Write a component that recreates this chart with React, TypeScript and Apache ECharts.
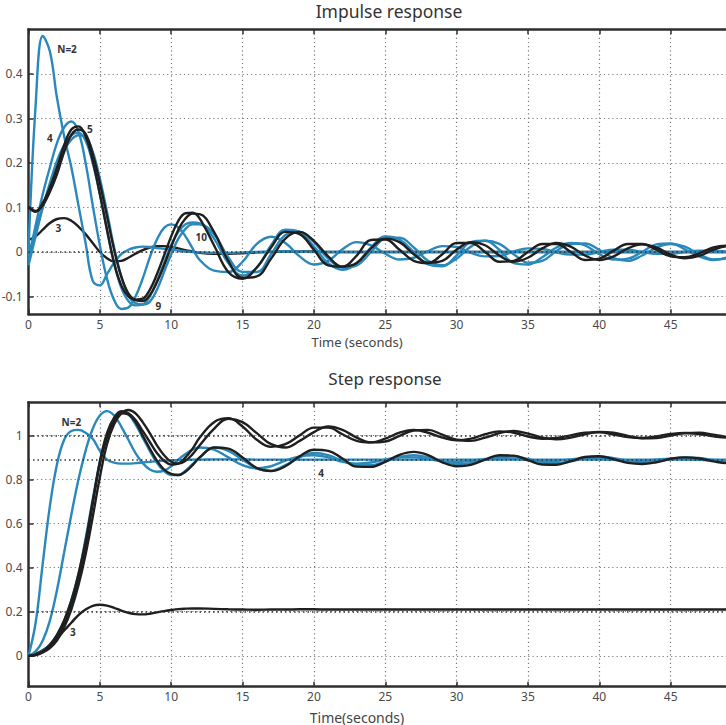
import React, { useEffect, useRef } from "react";
import * as echarts from "echarts";

// time samples (seconds)
const T = [0, 0.5, 1, 1.5, 2, 2.5, 3, 3.5, 4, 4.5, 5, 5.5, 6, 6.5, 7, 7.5, 8, 8.5, 9, 9.5, 10, 10.5, 11, 11.5, 12,
  13, 14, 15, 16, 17, 18, 19, 20, 21, 22, 23, 24, 25, 26, 27, 28, 29, 30, 31, 32, 33, 34, 35, 36, 37, 38, 39, 40,
  41, 42, 43, 44, 45, 46, 47, 48, 49, 50];

const X_TICKS = { min: 0, max: 50, interval: 5 };
const IMP_Y = { min: -0.14, max: 0.5, splitNumber: 5 };
const STEP_Y = { min: -0.14, max: 1.15, splitNumber: 6 };

// Impulse response values
const impN2 = [0, 0.33, 0.485, 0.45, 0.345, 0.26, 0.19, 0.105, 0.02, -0.065, -0.075, -0.05, -0.024, -0.005, 0.005,
  0.01, 0.012, 0.011, 0.009, 0.007, 0.005, 0.003, 0.001, 0, -0.001,
  -0.002, -0.002, -0.001, 0, 0.001, 0.001, 0.001, 0, 0, 0, 0, 0, 0, 0, 0, 0, 0, 0, 0, 0, 0, 0, 0, 0, 0, 0, 0, 0,
  0, 0, 0, 0, 0, 0, 0, 0, 0, 0];
const impN3 = [0.027, 0.035, 0.05, 0.065, 0.074, 0.076, 0.07, 0.057, 0.04, 0.02, 0.0, -0.014, -0.021, -0.02, -0.013,
  -0.004, 0.004, 0.01, 0.013, 0.013, 0.011, 0.008, 0.004, 0.001, -0.002,
  -0.004, -0.004, -0.003, -0.001, 0, 0.001, 0.001, 0.001, 0, 0, 0, 0, 0, 0, 0, 0, 0, 0, 0, 0, 0, 0, 0, 0, 0, 0, 0, 0,
  0, 0, 0, 0, 0, 0, 0, 0, 0, 0];
const impN4 = [-0.02, 0.06, 0.13, 0.19, 0.245, 0.28, 0.293, 0.27, 0.2, 0.105, 0.015, -0.06, -0.108, -0.128, -0.125,
  -0.1, -0.06, -0.012, 0.028, 0.054, 0.062, 0.055, 0.035, 0.008, -0.018,
  -0.042, -0.045, -0.022, 0.018, 0.034, 0.02, -0.01, -0.028, -0.02, 0.006,
  0.022, 0.015, -0.004, -0.017, -0.013, 0.002, 0.013, 0.011, -0.002, -0.01,
  -0.009, 0.001, 0.008, 0.007, -0.001, -0.006, -0.006, 0.0, 0.005, 0.005,
  0.0, -0.004, -0.004, 0.0, 0.003, 0.003, 0.0, -0.002];
const impN5 = [0.102, 0.092, 0.11, 0.145, 0.19, 0.24, 0.275, 0.282, 0.26, 0.205, 0.13, 0.05, -0.025, -0.075, -0.1,
  -0.107, -0.105, -0.085, -0.05, -0.008, 0.035, 0.07, 0.087, 0.088, 0.075,
  0.015, -0.045, -0.06, -0.035, 0.01, 0.045, 0.04, 0.005, -0.03, -0.033,
  -0.008, 0.027, 0.028, 0.005, -0.02, -0.025, -0.005, 0.02, 0.02, 0.0,
  -0.022, -0.02, 0.0, 0.018, 0.018, 0.0, -0.018, -0.015, 0.003, 0.018,
  0.018, 0.005, -0.01, -0.012, -0.003, 0.01, 0.014, 0.008];
const impN7 = [0.1, 0.09, 0.105, 0.135, 0.175, 0.225, 0.263, 0.275, 0.265, 0.22, 0.155, 0.08, 0.005, -0.055, -0.093,
  -0.108, -0.11, -0.097, -0.068, -0.03, 0.012, 0.05, 0.075, 0.086, 0.085,
  0.045, -0.02, -0.058, -0.055, -0.015, 0.03, 0.045, 0.025, -0.01, -0.033,
  -0.025, 0.008, 0.03, 0.022, -0.005, -0.024, -0.02, 0.005, 0.022, 0.015,
  -0.008, -0.022, -0.013, 0.008, 0.02, 0.012, -0.008, -0.018, -0.01, 0.008,
  0.017, 0.01, -0.006, -0.014, -0.009, 0.005, 0.013, 0.01];
const impN8 = [-0.03, 0.035, 0.1, 0.155, 0.205, 0.24, 0.262, 0.268, 0.25, 0.2, 0.13, 0.05, -0.025, -0.08, -0.11,
  -0.12, -0.118, -0.1, -0.065, -0.025, 0.015, 0.045, 0.062, 0.066, 0.064,
  0.03, -0.025, -0.053, -0.035, 0.015, 0.05, 0.045, 0.012, -0.025, -0.04,
  -0.025, 0.01, 0.035, 0.028, 0.0, -0.028, -0.032, -0.008, 0.022, 0.025,
  0.005, -0.025, -0.028, -0.012, 0.01, 0.02, 0.015, -0.005, -0.017, -0.015,
  0.0, 0.017, 0.019, 0.006, -0.01, -0.018, -0.012, 0.002];
const impN10 = [-0.01, 0.05, 0.1, 0.145, 0.19, 0.228, 0.252, 0.262, 0.258, 0.225, 0.165, 0.09, 0.01, -0.055, -0.098,
  -0.115, -0.118, -0.112, -0.085, -0.045, -0.005, 0.03, 0.052, 0.062, 0.062,
  0.04, -0.012, -0.045, -0.045, -0.005, 0.038, 0.045, 0.022, -0.015, -0.035,
  -0.03, 0.0, 0.03, 0.032, 0.01, -0.02, -0.03, -0.015, 0.012, 0.025,
  0.018, -0.005, -0.024, -0.02, 0.002, 0.018, 0.019, 0.005, -0.014, -0.02,
  -0.008, 0.01, 0.018, 0.012, -0.005, -0.017, -0.014, 0.0];

// Step response values
const stepN2 = [0, 0.15, 0.42, 0.68, 0.87, 0.98, 1.02, 1.025, 1.012, 0.985, 0.93, 0.89, 0.876, 0.872, 0.872,
  0.874, 0.877, 0.88, 0.883, 0.885, 0.887, 0.888, 0.889, 0.89, 0.89,
  0.891, 0.891, 0.891, 0.89, 0.89, 0.89, 0.89, 0.89, 0.89, 0.89, 0.89, 0.89, 0.89, 0.89, 0.89, 0.89, 0.89, 0.89,
  0.89, 0.89, 0.89, 0.89, 0.89, 0.89, 0.89, 0.89, 0.89, 0.89, 0.89, 0.89, 0.89, 0.89, 0.89, 0.89, 0.89, 0.89, 0.89, 0.89];
const stepN3 = [0, 0.01, 0.025, 0.05, 0.08, 0.115, 0.15, 0.185, 0.21, 0.227, 0.232, 0.228, 0.218, 0.205, 0.195,
  0.189, 0.188, 0.191, 0.197, 0.203, 0.208, 0.212, 0.214, 0.215, 0.215,
  0.213, 0.211, 0.21, 0.209, 0.21, 0.21, 0.211, 0.211, 0.21, 0.21, 0.21, 0.21, 0.21, 0.21, 0.21, 0.21, 0.21, 0.21,
  0.21, 0.21, 0.21, 0.21, 0.21, 0.21, 0.21, 0.21, 0.21, 0.21, 0.21, 0.21, 0.21, 0.21, 0.21, 0.21, 0.21, 0.21, 0.21, 0.21];
const stepN5 = [0, 0.005, 0.02, 0.045, 0.085, 0.15, 0.23, 0.35, 0.5, 0.69, 0.88, 1.01, 1.08, 1.11, 1.1,
  1.07, 1.02, 0.97, 0.92, 0.885, 0.868, 0.872, 0.9, 0.94, 0.99,
  1.06, 1.078, 1.04, 0.98, 0.948, 0.96, 1.0, 1.035, 1.035, 1.005,
  0.975, 0.968, 0.985, 1.012, 1.025, 1.012, 0.99, 0.978, 0.985, 1.005,
  1.018, 1.012, 0.995, 0.985, 0.988, 1.0, 1.012, 1.014, 1.004, 0.992,
  0.988, 0.995, 1.006, 1.011, 1.006, 0.996, 0.99, 0.994];
const stepN7 = [0, 0.003, 0.015, 0.035, 0.07, 0.13, 0.21, 0.32, 0.46, 0.63, 0.81, 0.96, 1.05, 1.1, 1.115,
  1.1, 1.06, 1.01, 0.955, 0.91, 0.88, 0.872, 0.885, 0.915, 0.955,
  1.03, 1.075, 1.06, 1.01, 0.96, 0.945, 0.975, 1.015, 1.04, 1.025,
  0.99, 0.968, 0.972, 0.998, 1.022, 1.025, 1.003, 0.98, 0.975, 0.99,
  1.01, 1.02, 1.008, 0.99, 0.982, 0.99, 1.005, 1.016, 1.012, 0.998,
  0.987, 0.988, 0.999, 1.01, 1.012, 1.003, 0.992, 0.988];
const stepN9 = [0, 0.005, 0.02, 0.05, 0.095, 0.16, 0.25, 0.37, 0.52, 0.7, 0.87, 0.99, 1.065, 1.1, 1.095,
  1.06, 1.0, 0.94, 0.885, 0.845, 0.825, 0.82, 0.835, 0.865, 0.9,
  0.945, 0.94, 0.9, 0.852, 0.838, 0.86, 0.905, 0.935, 0.93, 0.895,
  0.858, 0.857, 0.88, 0.912, 0.925, 0.91, 0.878, 0.86, 0.866, 0.89,
  0.91, 0.908, 0.888, 0.868, 0.867, 0.883, 0.902, 0.905, 0.892, 0.875,
  0.87, 0.878, 0.894, 0.9, 0.895, 0.882, 0.874, 0.876];
const stepN4 = [0, 0.02, 0.07, 0.16, 0.3, 0.47, 0.64, 0.8, 0.93, 1.03, 1.09, 1.11, 1.09, 1.04, 0.98,
  0.92, 0.875, 0.845, 0.835, 0.84, 0.86, 0.89, 0.915, 0.935, 0.945,
  0.935, 0.9, 0.865, 0.85, 0.86, 0.885, 0.905, 0.91, 0.9, 0.88,
  0.872, 0.877, 0.89, 0.9, 0.9, 0.892, 0.882, 0.879, 0.884, 0.893,
  0.898, 0.895, 0.887, 0.882, 0.884, 0.891, 0.896, 0.895, 0.889, 0.884,
  0.885, 0.89, 0.894, 0.893, 0.889, 0.886, 0.887, 0.891];
const stepN6 = [0, 0.006, 0.022, 0.05, 0.095, 0.16, 0.25, 0.37, 0.53, 0.71, 0.88, 1.0, 1.07, 1.105, 1.095,
  1.05, 0.99, 0.93, 0.875, 0.838, 0.82, 0.82, 0.84, 0.87, 0.9,
  0.945, 0.93, 0.89, 0.85, 0.84, 0.865, 0.9, 0.92, 0.91, 0.885,
  0.865, 0.865, 0.882, 0.902, 0.91, 0.9, 0.88, 0.87, 0.874, 0.89,
  0.904, 0.905, 0.893, 0.878, 0.874, 0.882, 0.897, 0.903, 0.897, 0.885,
  0.878, 0.881, 0.892, 0.9, 0.898, 0.888, 0.88, 0.882];

// reference (settling) levels in step plot
const STEP_REF = [1, 0.891, 0.2];

const BLUE = "#2a88bb";
const BLACK = "#1f1f1f";
const FONT = '"Noto Sans", "Open Sans", sans-serif';

const dotted = { color: "#7a7a7a", width: 1.2, type: [1.2, 3] as any };

function xAxisBottom(gi: number) {
  return {
    type: "value", gridIndex: gi, position: "bottom", ...X_TICKS,
    axisLine: { show: true, onZero: false, lineStyle: { color: "#2e2e2e", width: 2.5 } },
    axisTick: { show: true, inside: true, length: 5, lineStyle: { color: "#2e2e2e", width: 1.5 } },
    axisLabel: { show: true, color: "#4a4a4a", fontSize: 12, margin: 4, fontFamily: FONT, showMaxLabel: false },
    splitLine: { show: true, lineStyle: dotted },
  };
}
function xAxisTop(gi: number) {
  return {
    type: "value", gridIndex: gi, position: "top", ...X_TICKS,
    axisLine: { show: true, onZero: false, lineStyle: { color: "#2e2e2e", width: 2.5 } },
    axisTick: { show: true, inside: true, length: 5, lineStyle: { color: "#2e2e2e", width: 1.5 } },
    axisLabel: { show: false },
    splitLine: { show: false },
  };
}
function yAxis(gi: number, ext: any) {
  return {
    type: "value", gridIndex: gi, ...ext,
    axisLine: { show: true, onZero: false, lineStyle: { color: "#2e2e2e", width: 2.5 } },
    axisTick: { show: true, inside: true, length: 5, lineStyle: { color: "#2e2e2e", width: 1.5 } },
    axisLabel: { show: true, color: "#4a4a4a", fontSize: 12, margin: 6, fontFamily: FONT, showMinLabel: false, showMaxLabel: false },
    splitLine: { show: true, lineStyle: dotted },
  };
}

function line(vals: number[], color: string, gi: number, labels?: { name: string; coord: number[] }[], extra?: any) {
  const s: any = {
    type: "line", xAxisIndex: gi * 2, yAxisIndex: gi,
    data: T.map((t, i) => [t, vals[i]]),
    smooth: 0.4, showSymbol: false, symbol: "none",
    lineStyle: { color, width: 2.4 },
    z: 3,
  };
  if (labels) {
    s.markPoint = {
      symbol: "circle", symbolSize: 0, silent: true,
      label: { show: true, position: "inside", formatter: "{b}", color: "#333", fontSize: 10, fontWeight: "bold", fontFamily: FONT },
      data: labels.map((l) => ({ name: l.name, coord: l.coord })),
    };
  }
  return Object.assign(s, extra || {});
}

export default function App() {
  const ref = useRef<HTMLDivElement>(null);
  useEffect(() => {
    const chart = echarts.init(ref.current!, null, { renderer: "svg" });
    const option: any = {
      animation: false,
      backgroundColor: "#ffffff",
      grid: [
        { left: 28.5, top: 29.3, width: 713.5, height: 285, outerBoundsMode: "none", containLabel: false },
        { left: 28.5, top: 402.3, width: 713.5, height: 284.4, outerBoundsMode: "none", containLabel: false },
      ],
      xAxis: [xAxisBottom(0), xAxisTop(0), xAxisBottom(1), xAxisTop(1)],
      yAxis: [yAxis(0, IMP_Y), yAxis(1, STEP_Y)],
      series: [
        line(impN3, BLACK, 0, [{ name: "3", coord: [2.1, 0.053] }], {
          markLine: { silent: true, symbol: "none", label: { show: false }, lineStyle: { color: "#333", width: 1.6, type: [1.5, 3] }, data: [{ yAxis: 0 }] },
        }),
        line(impN2, BLUE, 0, [{ name: "N=2", coord: [2.7, 0.455] }]),
        line(impN4, BLUE, 0, [{ name: "4", coord: [1.5, 0.256] }]),
        line(impN10, BLUE, 0, [{ name: "9", coord: [9.1, -0.122] }]),
        line(impN8, BLUE, 0, [{ name: "10", coord: [12.1, 0.034] }]),
        line(impN5, BLACK, 0, [{ name: "5", coord: [4.3, 0.276] }]),
        line(impN7, BLACK, 0),

        line(stepN3, BLACK, 1, [{ name: "3", coord: [3.1, 0.11] }], {
          markLine: { silent: true, symbol: "none", label: { show: false }, lineStyle: { color: "#333", width: 1.6, type: [1.5, 3] }, data: STEP_REF.map((v) => ({ yAxis: v })) },
        }),
        line(stepN2, BLUE, 1, [{ name: "N=2", coord: [3.0, 1.06] }]),
        line(stepN4, BLUE, 1, [{ name: "4", coord: [20.5, 0.829] }]),
        line(stepN6, BLUE, 1),
        line(stepN9, BLACK, 1),
        line(stepN5, BLACK, 1),
        line(stepN7, BLACK, 1),
      ],
      graphic: [
        { type: "text", x: 389, y: 11, style: { text: "Impulse response", fill: "#333", font: `17.5px ${FONT}`, align: "center", verticalAlign: "middle", textAlign: "center", textVerticalAlign: "middle" } },
        { type: "text", x: 385, y: 378, style: { text: "Step response", fill: "#333", font: `17px ${FONT}`, align: "center", verticalAlign: "middle", textAlign: "center", textVerticalAlign: "middle" } },
        { type: "text", x: 357, y: 342, style: { text: "Time (seconds)", fill: "#444", font: `13px ${FONT}`, align: "center", verticalAlign: "middle", textAlign: "center", textVerticalAlign: "middle" } },
        { type: "text", x: 357, y: 717, style: { text: "Time(seconds)", fill: "#444", font: `14px ${FONT}`, align: "center", verticalAlign: "middle", textAlign: "center", textVerticalAlign: "middle" } },
      ],
    };
    chart.setOption(option);
    return () => chart.dispose();
  }, []);
  return <div ref={ref} style={{ position: "fixed", left: 0, top: 0, width: 726, height: 725, background: "#fff" }} />;
}
